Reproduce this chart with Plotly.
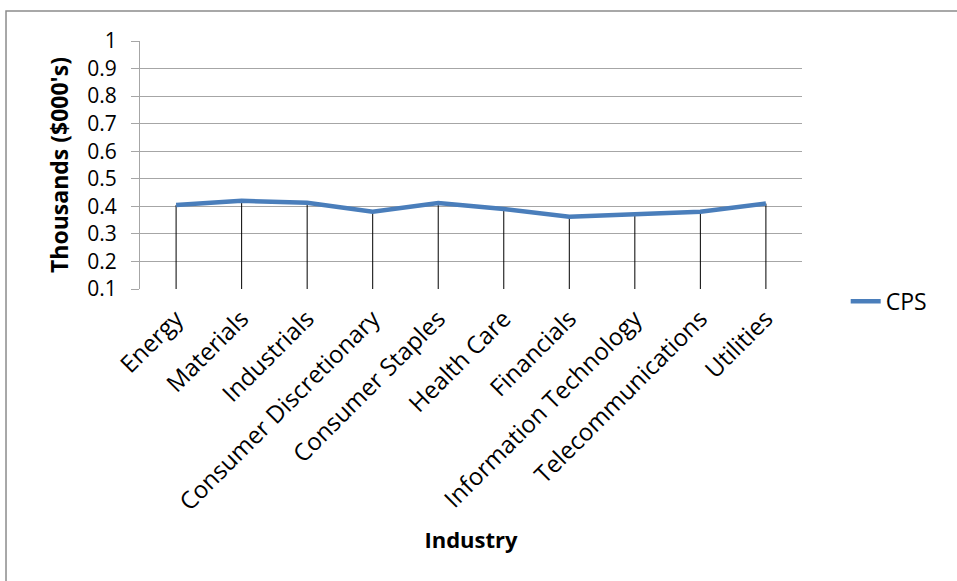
import plotly.graph_objects as go

industries = ["Energy", "Materials", "Industrials", "Consumer Discretionary",
              "Consumer Staples", "Health Care", "Financials",
              "Information Technology", "Telecommunications", "Utilities"]
cps = [0.405, 0.42, 0.413, 0.38, 0.412, 0.39, 0.362, 0.37, 0.38, 0.41]
y_min, y_max = 0.1, 1.0
y_ticks = [0.1, 0.2, 0.3, 0.4, 0.5, 0.6, 0.7, 0.8, 0.9, 1.0]
y_tick_labels = ["0.1", "0.2", "0.3", "0.4", "0.5", "0.6", "0.7", "0.8", "0.9", "1"]

FONT = "Open Sans"
GRID = "#a6a6a6"

fig = go.Figure()

# drop lines from each point down to the axis floor
fig.add_trace(go.Scatter(
    x=industries, y=cps, mode="markers",
    marker=dict(size=1, color="rgba(0,0,0,0)"),
    error_y=dict(type="data", symmetric=False,
                 array=[0] * len(cps),
                 arrayminus=[v - y_min for v in cps],
                 color="#000000", thickness=1, width=0),
    showlegend=False, hoverinfo="skip"))

fig.add_trace(go.Scatter(
    x=industries, y=cps, mode="lines", name="CPS",
    line=dict(color="#4a7ebb", width=4.5)))

fig.update_layout(
    width=957, height=581,
    margin=dict(l=140, r=155, t=41, b=292),
    paper_bgcolor="white", plot_bgcolor="white",
    font=dict(family=FONT, size=21, color="#000000"),
    showlegend=True,
    legend=dict(x=1.066, y=-0.05, xanchor="left", yanchor="middle",
                font=dict(size=23, family=FONT), bgcolor="rgba(0,0,0,0)"),
    xaxis=dict(type="category", tickangle=-45, showgrid=False,
               showline=False, ticks="", zeroline=False,
               ticklabelstandoff=10,
               tickfont=dict(size=24, family=FONT),
               title=dict(text="<b>Industry</b>", font=dict(size=22, family=FONT), standoff=16)),
    yaxis=dict(range=[y_min, y_max], tickvals=y_ticks, ticktext=y_tick_labels,
               showgrid=True, gridcolor=GRID, gridwidth=1,
               showline=True, linecolor=GRID, linewidth=1,
               ticks="outside", ticklen=8, tickcolor=GRID,
               ticklabelstandoff=10,
               zeroline=False, tickfont=dict(size=21, family=FONT),
               title=dict(text="<b>Thousands ($000's)</b>", font=dict(size=23, family=FONT), standoff=12)),
    shapes=[dict(type="rect", xref="paper", yref="paper",
                 x0=-0.2024, x1=1.6, y0=-1.6, y1=1.121,
                 line=dict(color="#8c8c8c", width=1.5), layer="below")],
)

fig.write_html("out.html")
